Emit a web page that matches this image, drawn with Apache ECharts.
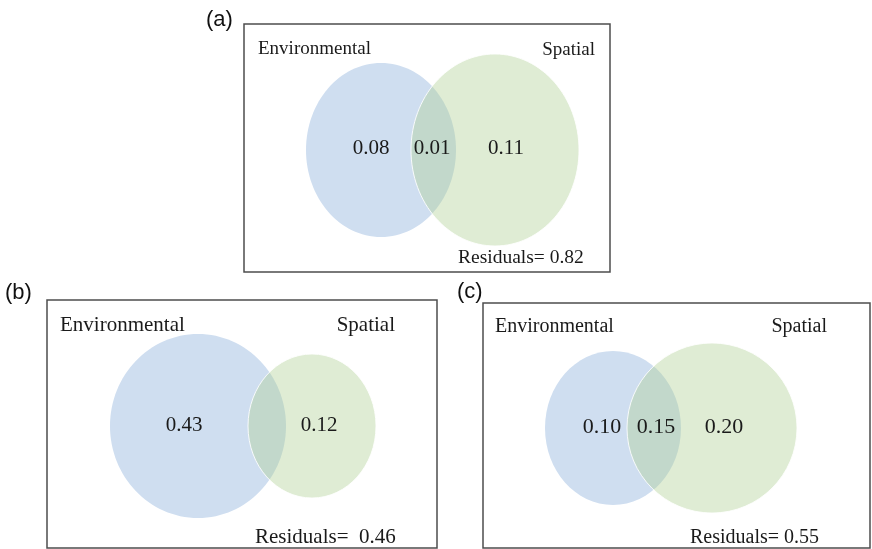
<!DOCTYPE html>
<html><head><meta charset="utf-8">
<script src="https://cdn.jsdelivr.net/npm/echarts@6/dist/echarts.min.js"></script>
<style>html,body{margin:0;padding:0;background:#fff}#c{width:872px;height:549px}</style>
</head><body><div id="c"></div>
<script>
// ---- data ----
const panelTags = ['(a)', '(b)', '(c)'];
const setNames = ['Environmental', 'Spatial'];
const envOnly = [0.08, 0.43, 0.10];
const shared = [0.01, null, 0.15];
const spatialOnly = [0.11, 0.12, 0.20];
const residuals = [0.82, 0.46, 0.55];

// ---- layout (box px units) ----
const boxes = [
  {left: 244, top: 24, w: 366, h: 248},
  {left: 47, top: 300, w: 390, h: 248},
  {left: 483, top: 303, w: 387, h: 245}
];
const ellipses = [ // [cx, cy, rx, ry] blue, green
  [[137, 126, 75, 87], [251, 126, 84, 96]],
  [[151, 126, 88, 92], [265, 126, 64, 72]],
  [[130, 125, 68, 77], [229, 125, 85, 85]]
];
const textPos = [
  {env: [14, 25], sp: [351, 26], nums: [127, 188, 262], ny: 124, res: [214, 234], fl: 19, fn: 21, fr: 19.5, gap: ' '},
  {env: [13, 25], sp: [348, 25], nums: [137, null, 272], ny: 125, res: [208, 237], fl: 21, fn: 21, fr: 21, gap: '  '},
  {env: [12, 24], sp: [344, 24], nums: [119, 173, 241], ny: 124, res: [207, 235], fl: 20, fn: 22, fr: 20, gap: ' '}
];
const tagPos = [[206, 21], [5, 294], [457, 293]];

const serif = '"Liberation Serif", "Times New Roman", serif';
const fills = ['rgb(207,222,240)', 'rgba(175,207,147,0.4)'];

const grid = [], xAxis = [], yAxis = [], series = [];
boxes.forEach((b, i) => {
  grid.push({left: b.left, top: b.top, width: b.w, height: b.h, show: true,
    borderColor: '#4d4d4d', borderWidth: 1.5, backgroundColor: 'transparent'});
  xAxis.push({type: 'value', gridIndex: i, min: 0, max: b.w, show: false});
  yAxis.push({type: 'value', gridIndex: i, min: 0, max: b.h, inverse: true, show: false});
  series.push({
    type: 'custom', xAxisIndex: i, yAxisIndex: i, silent: true,
    data: ellipses[i],
    renderItem: function (params, api) {
      const c = api.coord([api.value(0), api.value(1)]);
      const s = api.size([api.value(2), api.value(3)]);
      const k = params.dataIndex;
      return {type: 'ellipse', shape: {cx: c[0], cy: c[1], rx: s[0], ry: s[1]},
        style: {fill: fills[k], stroke: k === 1 ? 'rgba(255,255,255,0.85)' : null, lineWidth: 1}};
    }
  });
  const t = textPos[i];
  const vals = [envOnly[i], shared[i], spatialOnly[i]];
  const texts = [
    {p: t.env, s: setNames[0], a: 'left', f: t.fl},
    {p: t.sp, s: setNames[1], a: 'right', f: t.fl},
    {p: t.res, s: 'Residuals=' + t.gap + residuals[i].toFixed(2), a: 'left', f: t.fr}
  ];
  vals.forEach((v, j) => {
    if (v !== null && t.nums[j] !== null) texts.push({p: [t.nums[j], t.ny], s: v.toFixed(2), a: 'center', f: t.fn});
  });
  series.push({
    type: 'custom', xAxisIndex: i, yAxisIndex: i, silent: true, z: 5,
    data: texts.map(d => d.p),
    renderItem: function (params, api) {
      const d = texts[params.dataIndex];
      const c = api.coord([api.value(0), api.value(1)]);
      return {type: 'text', x: c[0], y: c[1],
        style: {text: d.s, textAlign: d.a, textVerticalAlign: 'middle', fill: '#1a1a1a',
          font: d.f + 'px ' + serif}};
    }
  });
});

const chart = echarts.init(document.getElementById('c'), null, {renderer: 'canvas'});
chart.setOption({
  animation: false,
  grid, xAxis, yAxis, series,
  graphic: panelTags.map((tag, i) => ({
    type: 'text', left: tagPos[i][0], top: tagPos[i][1] - 12,
    style: {text: tag, fill: '#111', font: '22px "Liberation Sans", Arial, sans-serif'}
  }))
});
</script></body></html>
